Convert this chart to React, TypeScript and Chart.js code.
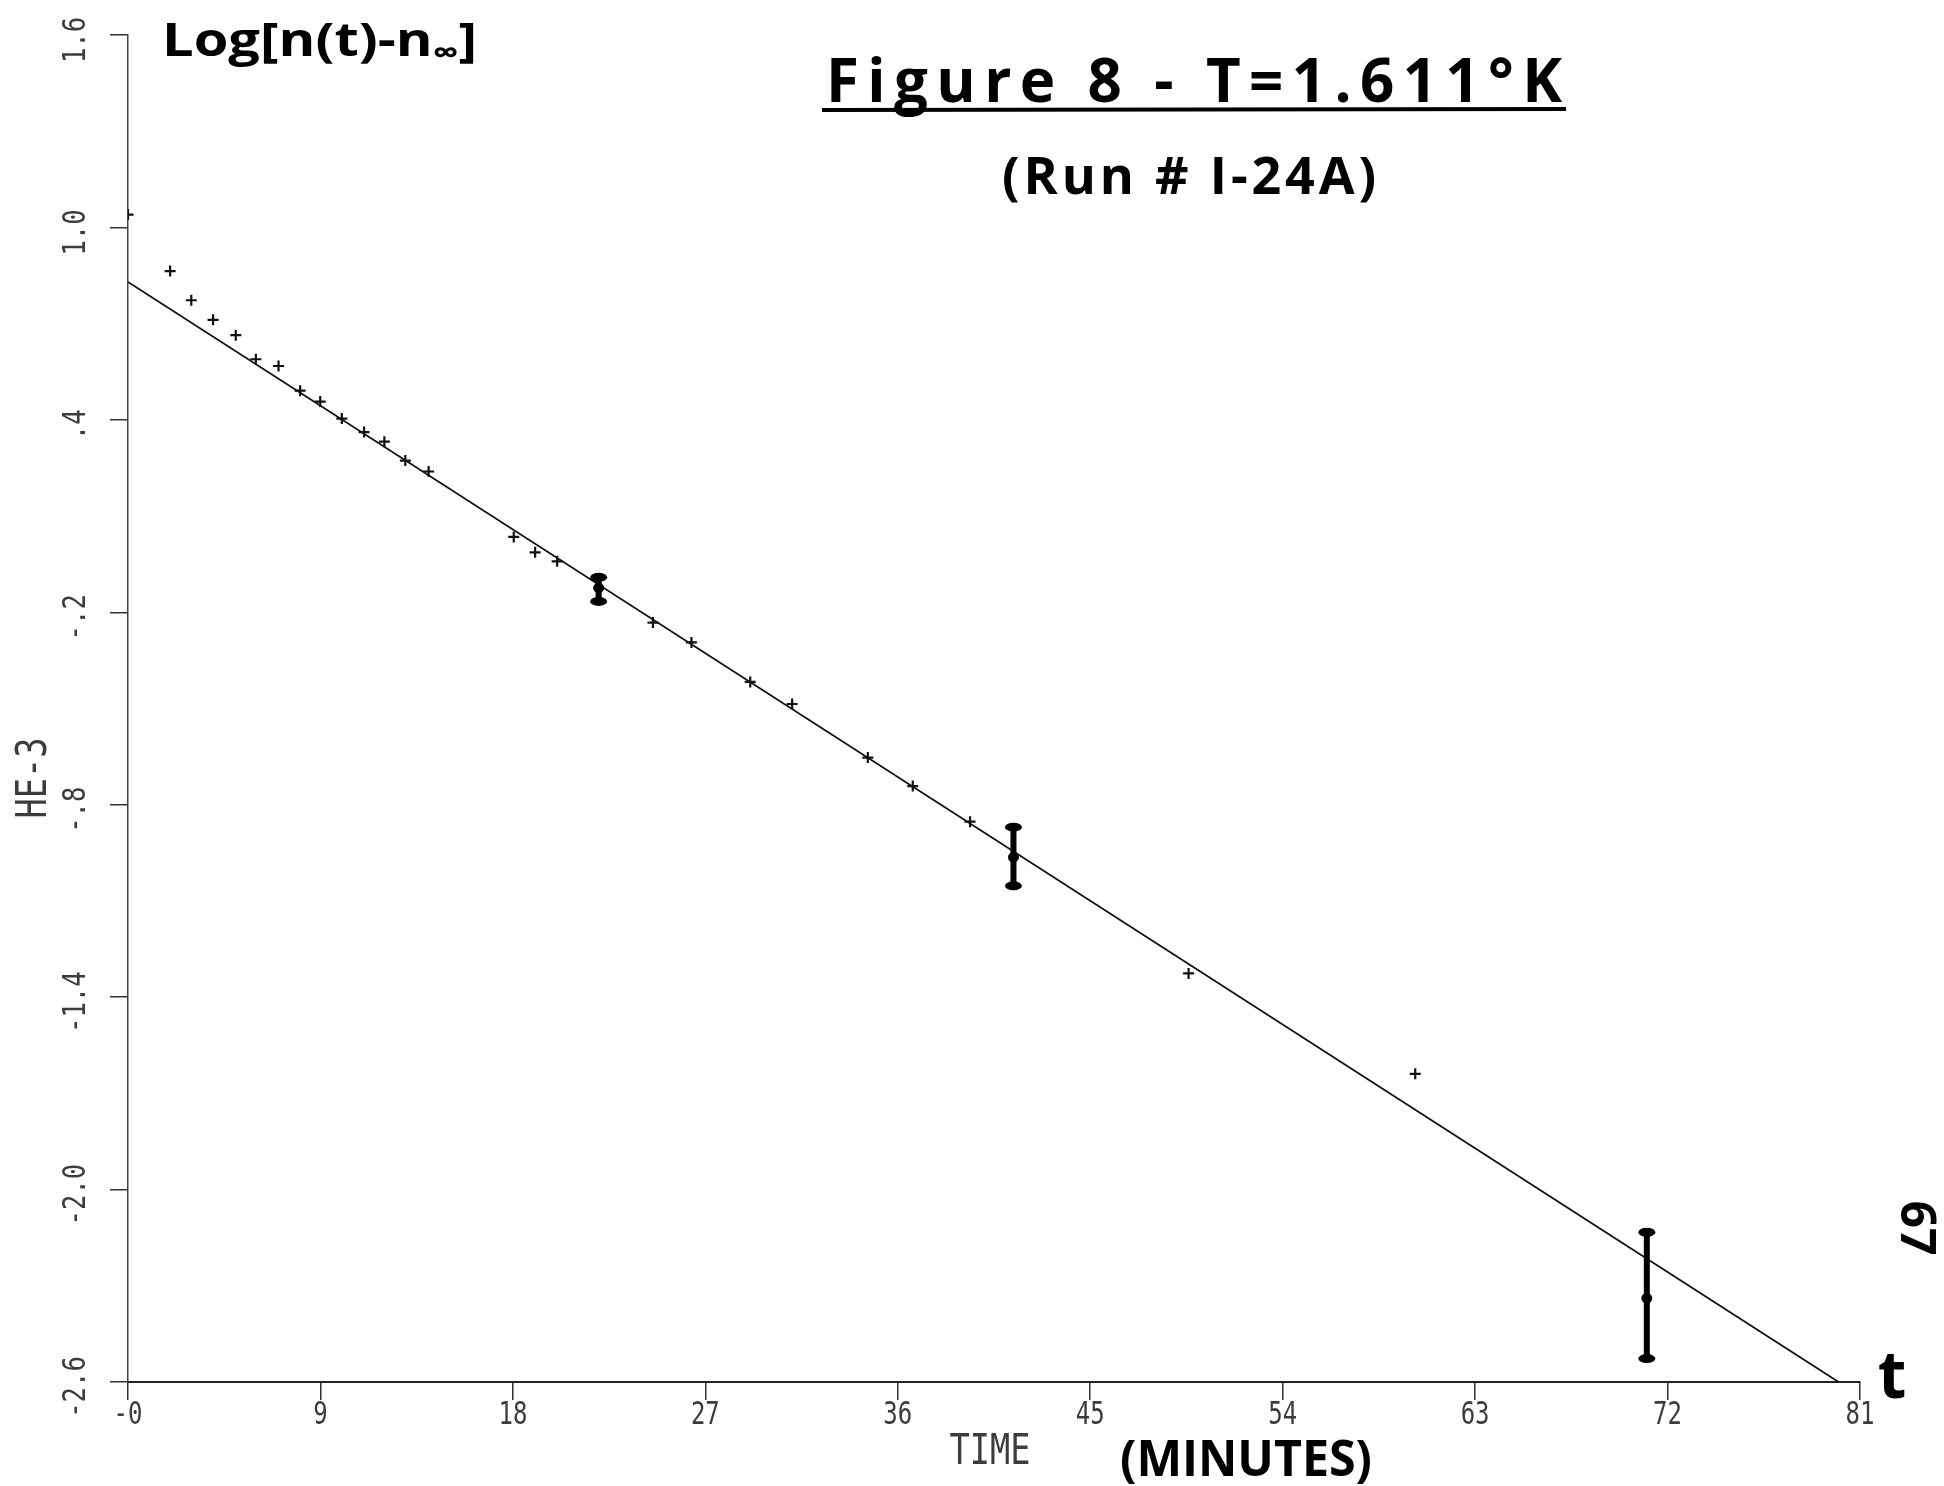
import React, { useEffect, useRef } from "react";
import { Chart, registerables } from "chart.js";

Chart.register(...registerables);

// ---- data ----
const timeMin = [0, 1.97, 2.96, 3.98, 5.04, 5.98, 7.04, 8.05, 8.99, 10.0, 11.04, 11.99, 12.97, 14.06, 18.04, 19.04, 20.07, 24.55, 26.35, 29.1, 31.06, 34.6, 36.7, 39.38, 49.6, 60.2];
const logN = [1.04, 0.864, 0.773, 0.712, 0.664, 0.589, 0.568, 0.491, 0.457, 0.404, 0.362, 0.332, 0.273, 0.239, 0.035, -0.013, -0.041, -0.232, -0.294, -0.417, -0.486, -0.653, -0.742, -0.853, -1.326, -1.639];

const errTime = [22.01, 41.41, 71.03];
const errMid = [-0.124, -0.964, -2.339];
const errHigh = [-0.091, -0.87, -2.133];
const errLow = [-0.166, -1.053, -2.527];

const fitTime = [0, 80];
const fitLog = [0.83, -2.6];

const xTickLabels = ["-0", "9", "18", "27", "36", "45", "54", "63", "72", "81"];
const yTickLabels = ["-2.6", "-2.0", "-1.4", "-.8", "-.2", ".4", "1.0", "1.6"];

const xTitle = "TIME";
const yTitle = "HE-3";
const unitsNote = "(MINUTES)";
const figTitle = "Figure 8 - T=1.611°K";
const runNote = "(Run # I-24A)";
const yNoteMain = "Log[n(t)-n";
const yNoteSub = "∞";
const yNoteEnd = "]";
const pageNo = "67";
const tMark = "t";

const W = 1944;
const H = 1486;

const plotterFont = (s: number) => `${s}px "DejaVu Sans Mono"`;
const handFont = (s: number) => `bold ${s}px "Open Sans"`;
const PLOT_COLOR = "#3c3c3c";

function drawText(ctx: CanvasRenderingContext2D, text: string, cx: number, cy: number, font: string, sx: number, rot: number, color: string) {
  ctx.save();
  ctx.translate(cx, cy);
  ctx.rotate(rot);
  ctx.scale(sx, 1);
  ctx.font = font;
  ctx.fillStyle = color;
  ctx.textAlign = "center";
  ctx.textBaseline = "middle";
  ctx.fillText(text, 0, 0);
  ctx.restore();
}

function fitText(ctx: CanvasRenderingContext2D, text: string, x0: number, x1: number, baseline: number, font: string, color: string) {
  ctx.save();
  ctx.font = font;
  ctx.fillStyle = color;
  ctx.textAlign = "left";
  ctx.textBaseline = "alphabetic";
  const w = ctx.measureText(text).width;
  const target = x1 - x0;
  const chars = Array.from(text);
  if (w < target && chars.length > 1) {
    const sp = (target - w) / (chars.length - 1);
    let x = x0;
    for (const ch of chars) {
      ctx.fillText(ch, x, baseline);
      x += ctx.measureText(ch).width + sp;
    }
  } else {
    ctx.translate(x0, baseline);
    ctx.scale(target / w, 1);
    ctx.fillText(text, 0, 0);
  }
  ctx.restore();
}

const decorPlugin = {
  id: "decor",
  afterDatasetsDraw(chart: any) {
    const ctx: CanvasRenderingContext2D = chart.ctx;
    const xs = chart.scales.x;
    const ys = chart.scales.y;
    ctx.save();
    ctx.fillStyle = "#000";
    ctx.strokeStyle = "#000";
    errTime.forEach((t, i) => {
      const px = xs.getPixelForValue(t);
      const top = ys.getPixelForValue(errHigh[i]);
      const bot = ys.getPixelForValue(errLow[i]);
      ctx.lineWidth = 6;
      ctx.beginPath();
      ctx.moveTo(px, top);
      ctx.lineTo(px, bot);
      ctx.stroke();
      for (const yy of [top, bot]) {
        ctx.beginPath();
        ctx.ellipse(px, yy, 8.5, 4.5, 0, 0, Math.PI * 2);
        ctx.fill();
      }
    });
    ctx.restore();
  },
  afterDraw(chart: any) {
    const ctx: CanvasRenderingContext2D = chart.ctx;
    const xs = chart.scales.x;
    const ys = chart.scales.y;

    // tick labels (plotter style)
    xs.ticks.forEach((t: any, i: number) => {
      drawText(ctx, xTickLabels[i] ?? String(t.value), xs.getPixelForValue(t.value), 1416, plotterFont(32), 0.75, 0, PLOT_COLOR);
    });
    ys.ticks.forEach((t: any, i: number) => {
      drawText(ctx, yTickLabels[i] ?? String(t.value), 77, ys.getPixelForValue(t.value) + 5, plotterFont(32), 0.8, -Math.PI / 2, PLOT_COLOR);
    });

    // axis titles
    drawText(ctx, xTitle, 990, 1453, plotterFont(42), 0.8, 0, PLOT_COLOR);
    drawText(ctx, yTitle, 35, 778, plotterFont(42), 0.8, -Math.PI / 2, PLOT_COLOR);

    // handwritten annotations
    ctx.save();
    ctx.fillStyle = "#000";
    {
      const mainF = handFont(46);
      const subF = handFont(30);
      ctx.font = mainF;
      const w1 = ctx.measureText(yNoteMain).width;
      const w3 = ctx.measureText(yNoteEnd).width;
      ctx.font = subF;
      const w2 = ctx.measureText(yNoteSub).width;
      const total = w1 + w2 + w3;
      const sx = (477 - 162) / total;
      ctx.save();
      ctx.translate(162, 56);
      ctx.scale(sx, 1);
      ctx.textBaseline = "alphabetic";
      ctx.textAlign = "left";
      ctx.font = mainF;
      ctx.fillText(yNoteMain, 0, 0);
      ctx.font = subF;
      ctx.fillText(yNoteSub, w1, 7);
      ctx.font = mainF;
      ctx.fillText(yNoteEnd, w1 + w2, 0);
      ctx.restore();
    }
    fitText(ctx, figTitle, 826, 1562, 102, handFont(60), "#000");
    ctx.lineWidth = 4;
    ctx.strokeStyle = "#000";
    ctx.beginPath();
    ctx.moveTo(822, 110);
    ctx.lineTo(1566, 109);
    ctx.stroke();
    fitText(ctx, runNote, 1002, 1376, 194, handFont(52), "#000");
    fitText(ctx, unitsNote, 1120, 1372, 1476, handFont(50), "#000");
    drawText(ctx, tMark, 1892, 1379, handFont(66), 1, 0, "#000");
    drawText(ctx, pageNo, 1915, 1228, handFont(48), 1, Math.PI / 2, "#000");
    ctx.restore();
  },
};

export default function App() {
  const ref = useRef<HTMLCanvasElement | null>(null);

  useEffect(() => {
    if (!ref.current) return;
    const chart = new Chart(ref.current, {
      type: "scatter",
      data: {
        datasets: [
          {
            label: "fit",
            data: fitTime.map((t, i) => ({ x: t, y: fitLog[i] })),
            showLine: true,
            borderColor: "#111",
            borderWidth: 1.8,
            pointRadius: 0,
            fill: false,
          },
          {
            label: "HE-3",
            data: timeMin.map((t, i) => ({ x: t, y: logN[i] })),
            pointStyle: "cross",
            pointRadius: 5.5,
            pointBorderWidth: 2.2,
            borderColor: "#111",
            backgroundColor: "#111",
            showLine: false,
          },
          {
            label: "error points",
            data: errTime.map((t, i) => ({ x: t, y: errMid[i] })),
            pointStyle: "circle",
            pointRadius: 5,
            borderColor: "#000",
            backgroundColor: "#000",
            showLine: false,
          },
        ],
      },
      options: {
        animation: false,
        responsive: false,
        devicePixelRatio: 1,
        events: [],
        layout: { padding: { top: 35, right: 84, left: 0, bottom: 0 } },
        plugins: {
          legend: { display: false },
          tooltip: { enabled: false },
        },
        scales: {
          x: {
            type: "linear",
            min: 0,
            max: 81,
            afterFit: (s: any) => {
              s.height = H - 1382;
            },
            ticks: { stepSize: 9, display: false },
            grid: {
              display: true,
              drawOnChartArea: false,
              drawTicks: true,
              tickLength: 18,
              color: "#333",
              lineWidth: 1.5,
            },
            border: { display: true, color: "#222", width: 2 },
          },
          y: {
            type: "linear",
            min: -2.6,
            max: 1.6,
            afterFit: (s: any) => {
              s.width = 128;
            },
            ticks: { stepSize: 0.6, display: false },
            grid: {
              display: true,
              drawOnChartArea: false,
              drawTicks: true,
              tickLength: 18,
              color: "#333",
              lineWidth: 1.5,
            },
            border: { display: true, color: "#444", width: 1.5, dash: [12, 3] },
          },
        },
      },
      plugins: [decorPlugin],
    } as any);
    return () => chart.destroy();
  }, []);

  return (
    <div style={{ position: "absolute", left: 0, top: 0, width: W, height: H, background: "#fff" }}>
      <canvas ref={ref} width={W} height={H} style={{ display: "block", width: W, height: H }} />
    </div>
  );
}
